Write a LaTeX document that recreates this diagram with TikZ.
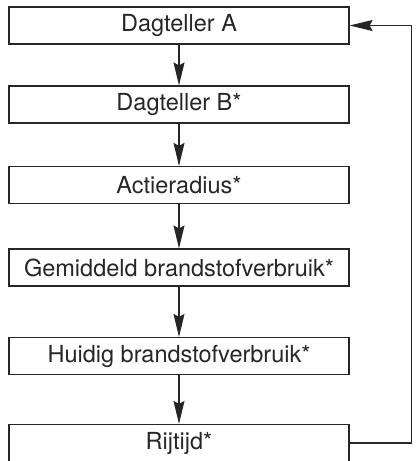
\documentclass[tikz,border=0pt]{standalone}
\usepackage{fontspec}
\setmainfont{TeX Gyre Heros}
\usetikzlibrary{arrows.meta}
\begin{document}
\begin{tikzpicture}[x=1pt,y=-1pt,
  box/.style={draw=black!85, line width=1.2pt, minimum width=340pt, minimum height=37pt, inner sep=0pt, font=\fontsize{23.5}{27}\selectfont, text=black!85},
  arr/.style={draw=black!85, line width=1.2pt, -{Stealth[length=23pt,width=11pt,inset=3pt]}}]
\useasboundingbox (0,0) rectangle (416,461);
\node[box] (a) at (179,25.5) {Dagteller A};
\node[box] (b) at (179,104.5) {Dagteller B*};
\node[box] (c) at (179,185) {Actieradius*};
\node[box] (d) at (179,267.5) {Gemiddeld brandstofverbruik*};
\node[box] (e) at (179,356) {Huidig brandstofverbruik*};
\node[box] (f) at (179,443) {Rijtijd*};
\draw[arr] (a) -- (b);
\draw[arr] (b) -- (c);
\draw[arr] (c) -- (d);
\draw[arr] (d) -- (e);
\draw[arr] (e) -- (f);
\draw[arr] (f.east) -- ++(62,0) |- (a.east);
\end{tikzpicture}
\end{document}
